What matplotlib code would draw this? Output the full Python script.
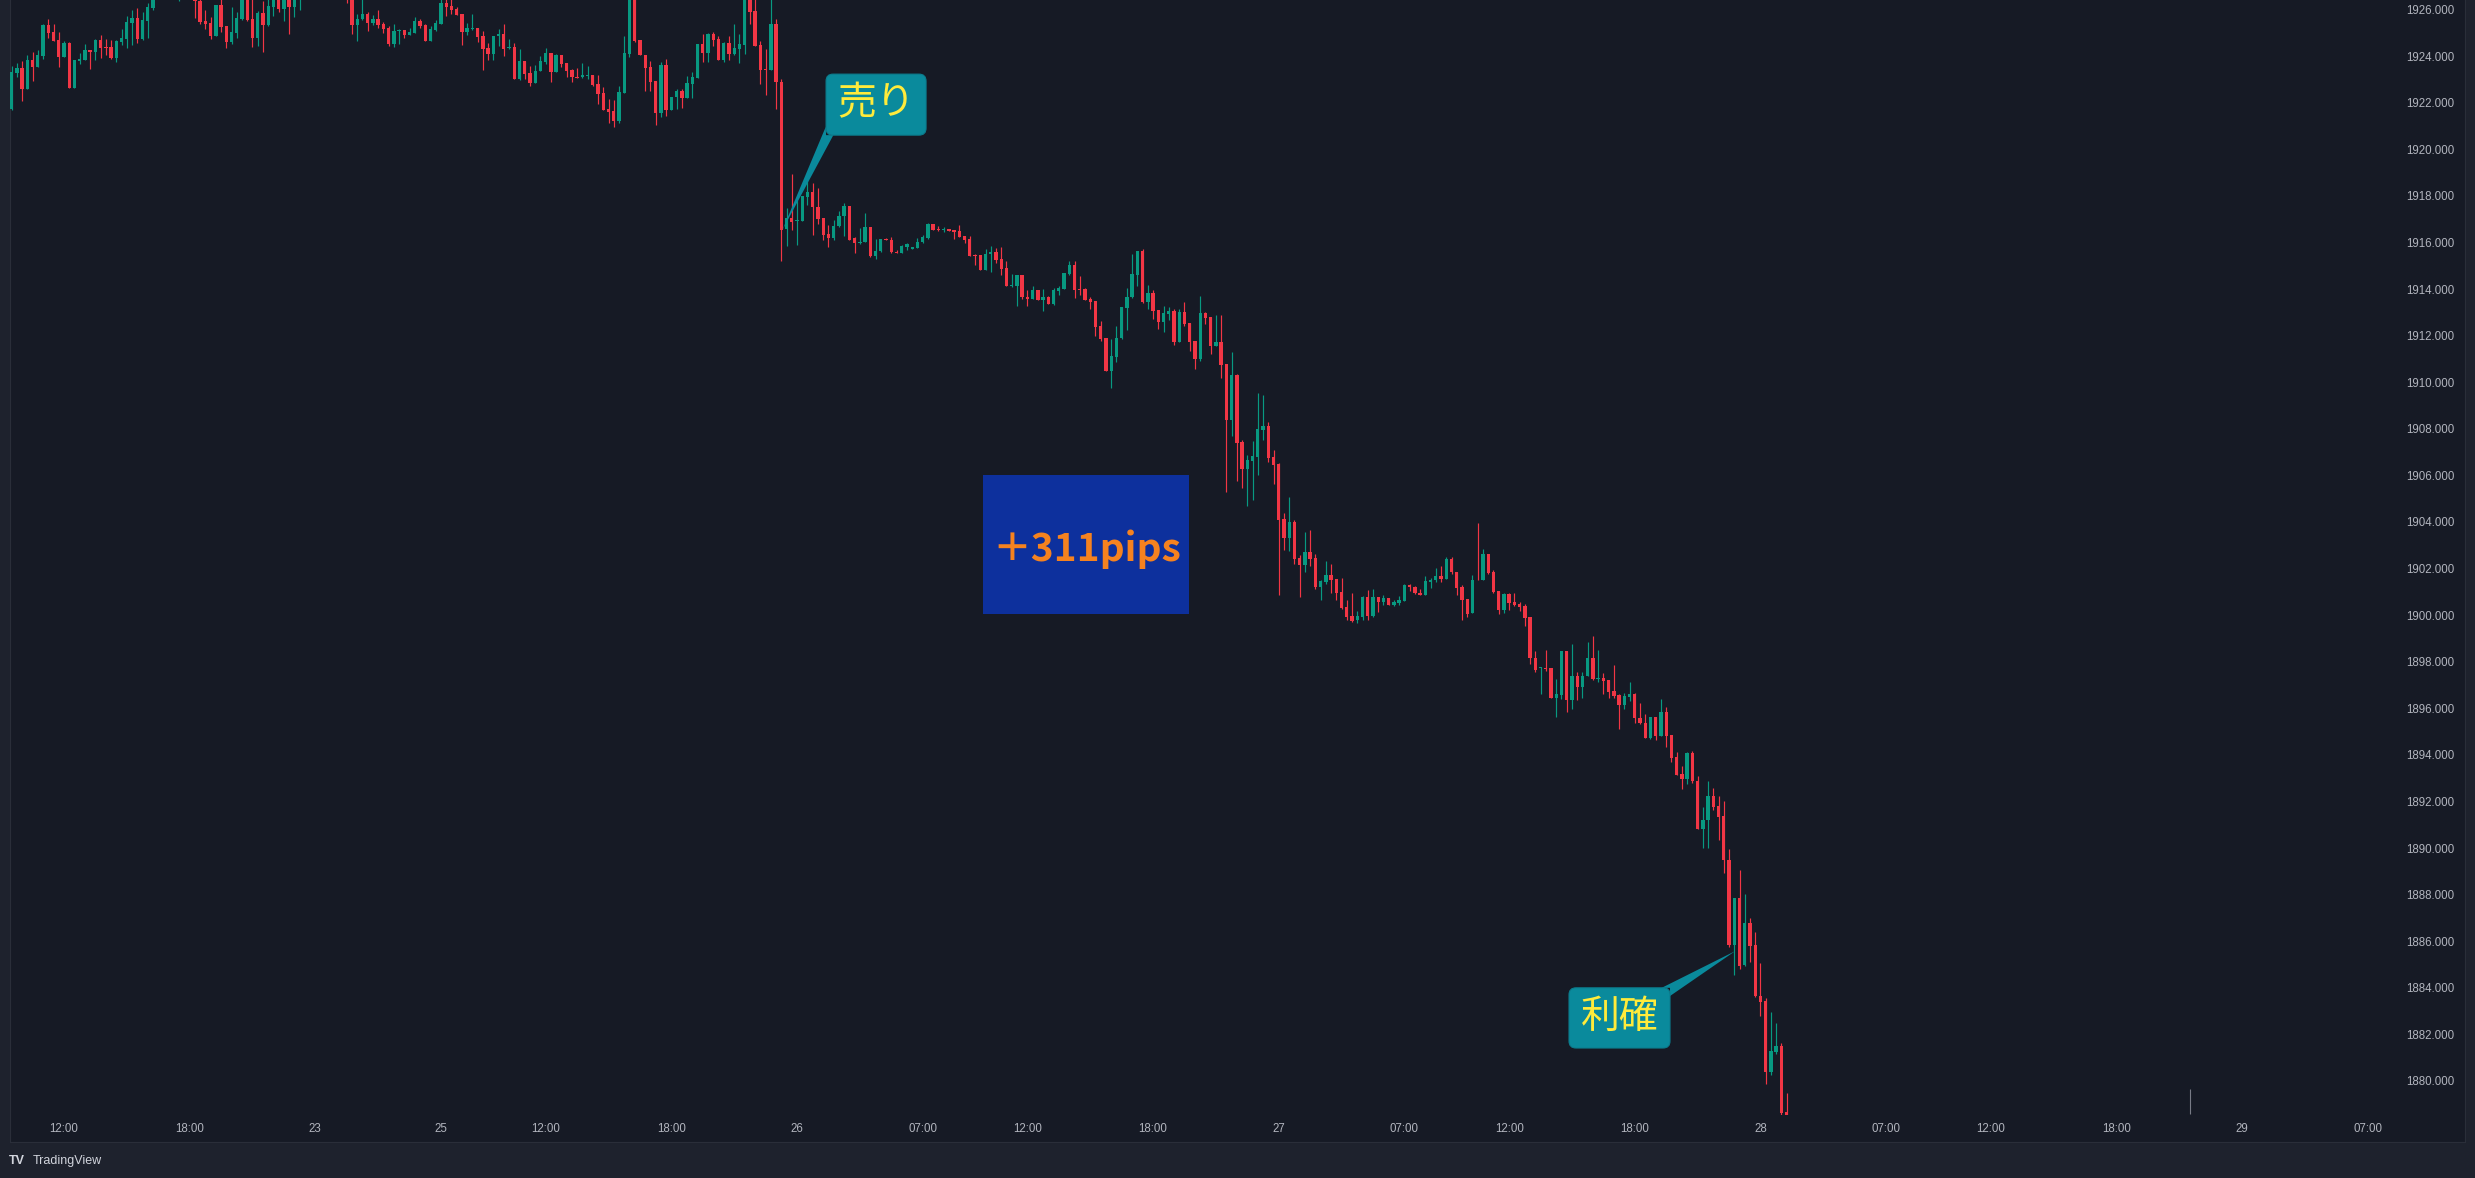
import numpy as np
import matplotlib
matplotlib.use("Agg")
import matplotlib.pyplot as plt
from matplotlib.patches import FancyBboxPatch, Polygon, Rectangle
from matplotlib.transforms import IdentityTransform

# 15-minute candles, bar index 0 = first "12:00" on the time axis
first_bar = -10
opens = [
    1921.73, 1923.28, 1923.49, 1922.60, 1923.83, 1923.53, 1924.01, 1925.34, 1925.04, 1924.69,
    1923.96, 1924.56, 1922.63, 1923.79, 1923.83, 1924.26, 1924.18, 1924.69, 1924.39, 1924.39,
    1923.92, 1924.61, 1924.74, 1925.42, 1925.64, 1924.74, 1925.51, 1926.07, 1926.80, 1927.30,
    1927.00, 1927.40, 1926.90, 1927.20, 1927.00, 1926.80, 1926.37, 1925.51, 1925.42, 1924.86,
    1926.20, 1925.29, 1924.61, 1925.00, 1925.59, 1926.60, 1925.59, 1924.78, 1925.85, 1925.34,
    1926.11, 1926.70, 1926.02, 1926.60, 1926.11, 1926.70, 1927.10, 1927.50, 1927.20, 1926.90,
    1927.30, 1927.00, 1927.40, 1927.10, 1926.80, 1926.50, 1925.34, 1925.59, 1925.81, 1925.42,
    1925.59, 1925.38, 1925.21, 1924.52, 1925.08, 1925.12, 1924.91, 1924.99, 1925.51, 1925.34,
    1924.65, 1925.12, 1925.38, 1926.28, 1926.15, 1926.02, 1925.81, 1925.04, 1925.16, 1925.21,
    1924.86, 1924.35, 1924.09, 1924.86, 1924.95, 1924.35, 1924.39, 1923.02, 1923.79, 1923.28,
    1922.85, 1923.36, 1923.75, 1924.13, 1923.32, 1924.05, 1923.71, 1923.40, 1923.10, 1923.10,
    1923.15, 1923.19, 1922.80, 1922.42, 1921.73, 1921.64, 1921.21, 1922.42, 1924.09, 1926.80,
    1924.69, 1924.05, 1923.53, 1922.93, 1921.56, 1923.62, 1921.69, 1922.24, 1922.50, 1922.20,
    1922.80, 1923.06, 1924.52, 1924.13, 1924.95, 1924.74, 1923.83, 1924.56, 1924.09, 1924.31,
    1924.48, 1926.70, 1925.94, 1924.48, 1923.45, 1923.40, 1925.38, 1922.89, 1916.58, 1917.05,
    1916.92, 1916.92, 1917.95, 1918.17, 1917.52, 1917.05, 1916.36, 1916.19, 1916.71, 1917.14,
    1917.56, 1916.19, 1915.98, 1916.02, 1916.66, 1915.42, 1915.65, 1916.15, 1916.10, 1915.60,
    1915.55, 1915.80, 1915.72, 1915.78, 1916.02, 1916.19, 1916.78, 1916.58, 1916.53, 1916.56,
    1916.53, 1916.49, 1916.27, 1916.15, 1915.47, 1915.46, 1914.82, 1915.50, 1915.60, 1915.27,
    1914.90, 1914.13, 1914.13, 1914.60, 1913.68, 1913.57, 1913.96, 1913.53, 1913.68, 1913.35,
    1913.93, 1914.00, 1914.64, 1915.03, 1914.00, 1914.00, 1913.57, 1913.48, 1912.41, 1911.89,
    1910.48, 1911.08, 1911.89, 1913.18, 1913.66, 1914.60, 1915.63, 1913.44, 1913.83, 1913.10,
    1912.58, 1912.93, 1913.05, 1911.72, 1913.01, 1912.54, 1911.77, 1910.99, 1912.97, 1912.80,
    1911.55, 1911.72, 1910.78, 1908.37, 1910.31, 1907.43, 1906.27, 1906.61, 1906.79, 1907.94,
    1908.12, 1906.79, 1906.49, 1904.12, 1903.31, 1903.99, 1902.45, 1902.15, 1902.71, 1902.45,
    1901.20, 1901.42, 1901.72, 1901.55, 1900.99, 1900.34, 1899.96, 1899.79, 1899.92, 1900.77,
    1899.96, 1900.77, 1900.56, 1900.73, 1900.43, 1900.52, 1900.60, 1901.29, 1901.22, 1900.94,
    1900.87, 1901.43, 1901.52, 1901.68, 1901.54, 1902.40, 1901.86, 1901.22, 1900.68, 1900.10,
    1901.50, 1901.49, 1902.63, 1901.86, 1901.03, 1900.21, 1900.91, 1900.56, 1900.47, 1900.38,
    1899.91, 1898.16, 1897.72, 1897.75, 1897.72, 1896.44, 1896.56, 1898.44, 1896.35, 1897.39,
    1896.91, 1897.40, 1898.16, 1897.26, 1897.30, 1897.21, 1896.74, 1896.56, 1896.14, 1896.49,
    1896.62, 1895.60, 1895.37, 1894.72, 1895.62, 1894.83, 1895.86, 1894.85, 1893.90, 1893.16,
    1892.97, 1894.07, 1892.90, 1890.83, 1891.22, 1892.22, 1891.80, 1891.36, 1889.47, 1885.84,
    1887.87, 1884.96, 1886.77, 1885.82, 1883.63, 1883.42, 1880.40, 1881.23, 1881.49, 1878.65,
]
highs = [
    1923.58, 1923.71, 1923.79, 1924.05, 1924.19, 1924.26, 1925.38, 1925.59, 1925.38, 1925.04,
    1924.65, 1924.61, 1923.83, 1924.13, 1924.52, 1924.26, 1924.74, 1924.91, 1924.74, 1924.69,
    1924.69, 1925.16, 1925.72, 1925.98, 1926.07, 1925.89, 1926.28, 1927.00, 1927.60, 1927.70,
    1927.80, 1927.60, 1927.50, 1927.40, 1927.20, 1927.00, 1926.60, 1925.98, 1925.68, 1926.20,
    1926.50, 1925.29, 1926.11, 1925.89, 1926.80, 1926.90, 1926.50, 1925.94, 1926.37, 1926.60,
    1927.00, 1926.90, 1926.80, 1926.80, 1926.90, 1927.30, 1927.80, 1927.70, 1927.40, 1927.50,
    1927.60, 1927.60, 1927.50, 1927.30, 1927.00, 1926.70, 1925.81, 1926.50, 1925.89, 1925.77,
    1925.98, 1925.47, 1925.29, 1925.38, 1925.16, 1925.12, 1925.21, 1925.68, 1925.59, 1925.38,
    1925.29, 1925.55, 1926.60, 1926.60, 1926.50, 1926.10, 1925.81, 1925.42, 1925.81, 1925.21,
    1925.08, 1924.56, 1924.86, 1925.16, 1925.38, 1924.74, 1924.56, 1924.31, 1923.79, 1923.58,
    1923.62, 1924.01, 1924.35, 1924.13, 1924.09, 1924.05, 1923.71, 1923.45, 1923.49, 1923.71,
    1923.58, 1923.19, 1923.19, 1922.67, 1922.16, 1922.12, 1922.72, 1924.86, 1927.20, 1927.00,
    1924.69, 1924.05, 1923.79, 1922.93, 1923.75, 1923.88, 1922.24, 1922.59, 1922.59, 1923.15,
    1923.32, 1924.52, 1924.95, 1924.99, 1925.04, 1924.86, 1924.61, 1924.86, 1925.38, 1924.95,
    1927.00, 1926.90, 1926.60, 1924.65, 1924.31, 1926.60, 1925.59, 1923.02, 1917.48, 1918.94,
    1917.82, 1917.99, 1918.68, 1918.57, 1918.32, 1917.05, 1916.75, 1916.96, 1917.35, 1917.69,
    1917.56, 1916.23, 1916.62, 1917.26, 1916.66, 1916.15, 1916.15, 1916.19, 1916.23, 1915.68,
    1915.89, 1915.98, 1915.82, 1916.19, 1916.32, 1916.83, 1916.78, 1916.71, 1916.66, 1916.56,
    1916.53, 1916.75, 1916.27, 1916.27, 1915.50, 1915.46, 1915.70, 1915.85, 1915.75, 1915.80,
    1915.19, 1914.64, 1914.60, 1914.60, 1913.96, 1914.13, 1913.96, 1914.00, 1913.71, 1914.04,
    1914.13, 1914.69, 1915.20, 1915.20, 1914.56, 1914.04, 1913.68, 1913.48, 1912.62, 1911.89,
    1911.85, 1912.41, 1913.23, 1914.04, 1915.50, 1915.63, 1915.72, 1914.17, 1913.96, 1913.10,
    1913.27, 1913.23, 1913.14, 1913.14, 1913.44, 1912.54, 1911.77, 1913.70, 1913.01, 1912.80,
    1912.88, 1912.88, 1910.78, 1911.29, 1910.35, 1907.52, 1906.87, 1907.47, 1909.53, 1909.45,
    1908.29, 1907.09, 1906.53, 1904.38, 1905.07, 1904.08, 1902.58, 1903.57, 1903.65, 1902.62,
    1901.50, 1902.32, 1902.19, 1901.55, 1901.59, 1900.65, 1900.95, 1900.17, 1900.82, 1901.07,
    1901.12, 1900.77, 1900.86, 1900.73, 1900.65, 1900.82, 1901.33, 1901.33, 1901.25, 1901.12,
    1901.68, 1901.61, 1902.01, 1902.10, 1902.49, 1902.49, 1901.86, 1901.31, 1900.68, 1901.72,
    1903.96, 1902.84, 1902.63, 1901.93, 1901.03, 1900.94, 1900.94, 1900.94, 1900.58, 1900.47,
    1899.91, 1898.46, 1897.79, 1898.51, 1897.72, 1897.28, 1898.44, 1898.44, 1898.75, 1897.56,
    1897.56, 1898.84, 1899.10, 1898.51, 1897.51, 1897.21, 1897.86, 1896.60, 1896.65, 1897.12,
    1896.67, 1896.21, 1895.76, 1895.62, 1895.62, 1896.39, 1896.04, 1894.85, 1894.13, 1893.51,
    1894.13, 1894.16, 1893.11, 1891.78, 1892.88, 1892.57, 1892.25, 1892.01, 1889.94, 1887.87,
    1889.04, 1888.01, 1886.99, 1886.38, 1885.08, 1883.58, 1882.96, 1882.49, 1881.63, 1879.48,
]
lows = [
    1921.69, 1923.12, 1922.07, 1922.60, 1922.95, 1923.53, 1923.88, 1924.79, 1924.65, 1923.53,
    1923.96, 1922.63, 1922.63, 1923.66, 1923.83, 1923.45, 1923.83, 1923.92, 1924.05, 1923.88,
    1923.75, 1924.48, 1924.35, 1924.48, 1924.56, 1924.69, 1924.78, 1925.98, 1926.70, 1926.80,
    1926.90, 1926.70, 1926.37, 1926.80, 1926.60, 1925.64, 1925.38, 1925.16, 1924.74, 1924.86,
    1925.04, 1924.35, 1924.52, 1924.78, 1925.55, 1925.50, 1924.39, 1924.43, 1924.18, 1925.30,
    1925.72, 1925.89, 1925.51, 1924.95, 1925.68, 1925.98, 1926.90, 1927.00, 1926.70, 1926.80,
    1926.80, 1926.90, 1926.90, 1926.60, 1926.28, 1924.95, 1924.65, 1925.55, 1925.08, 1925.34,
    1925.21, 1924.99, 1924.43, 1924.39, 1924.52, 1924.78, 1924.91, 1924.99, 1925.21, 1924.65,
    1924.65, 1925.08, 1925.38, 1925.72, 1925.81, 1925.77, 1924.48, 1924.91, 1925.12, 1924.61,
    1923.40, 1923.83, 1923.83, 1924.43, 1924.01, 1924.31, 1923.02, 1922.97, 1923.02, 1922.72,
    1922.85, 1923.36, 1923.66, 1922.89, 1923.32, 1923.53, 1923.10, 1922.89, 1923.06, 1923.06,
    1923.02, 1922.72, 1921.94, 1921.69, 1921.13, 1920.96, 1921.13, 1922.42, 1923.96, 1924.60,
    1924.05, 1922.50, 1922.50, 1921.04, 1921.39, 1921.43, 1921.69, 1921.73, 1921.77, 1922.20,
    1922.20, 1923.06, 1923.75, 1923.75, 1924.43, 1923.83, 1923.75, 1923.83, 1924.05, 1923.71,
    1924.09, 1925.38, 1924.43, 1922.80, 1922.33, 1923.40, 1921.73, 1915.20, 1915.85, 1916.53,
    1915.89, 1916.92, 1917.61, 1916.32, 1916.79, 1916.10, 1915.82, 1916.10, 1916.68, 1916.28,
    1916.10, 1915.56, 1915.95, 1916.02, 1915.38, 1915.28, 1915.60, 1916.10, 1915.53, 1915.53,
    1915.53, 1915.68, 1915.70, 1915.76, 1915.99, 1916.16, 1916.53, 1916.49, 1916.45, 1916.50,
    1916.16, 1916.25, 1915.96, 1915.43, 1915.03, 1914.82, 1914.82, 1914.74, 1915.10, 1914.60,
    1914.13, 1914.07, 1913.27, 1913.57, 1913.27, 1913.57, 1913.53, 1913.05, 1913.35, 1913.31,
    1913.74, 1914.00, 1914.60, 1913.61, 1913.74, 1913.53, 1913.14, 1911.98, 1911.78, 1910.48,
    1909.75, 1910.86, 1911.85, 1912.24, 1913.61, 1914.13, 1913.40, 1913.14, 1912.71, 1912.28,
    1912.15, 1912.67, 1911.59, 1911.72, 1912.41, 1911.34, 1910.56, 1910.91, 1912.50, 1911.21,
    1911.55, 1910.18, 1905.28, 1907.69, 1905.75, 1905.45, 1904.68, 1904.94, 1906.01, 1907.52,
    1906.57, 1905.63, 1900.86, 1902.79, 1902.75, 1902.19, 1900.77, 1901.85, 1902.11, 1901.12,
    1900.65, 1901.33, 1900.95, 1900.65, 1900.26, 1899.79, 1899.70, 1899.65, 1899.79, 1899.79,
    1899.92, 1900.13, 1900.43, 1900.43, 1900.39, 1900.43, 1900.60, 1901.03, 1900.90, 1900.87,
    1900.87, 1901.15, 1901.43, 1901.43, 1901.54, 1901.75, 1900.87, 1899.81, 1899.93, 1900.10,
    1901.49, 1901.49, 1901.75, 1900.94, 1900.07, 1900.10, 1900.24, 1900.38, 1900.16, 1899.54,
    1897.89, 1897.58, 1896.62, 1897.61, 1896.44, 1895.62, 1896.42, 1895.84, 1895.97, 1896.35,
    1896.44, 1897.37, 1897.23, 1897.11, 1896.63, 1896.44, 1896.44, 1895.13, 1895.95, 1896.32,
    1895.37, 1895.34, 1894.71, 1894.67, 1894.63, 1894.83, 1894.34, 1893.69, 1893.15, 1892.55,
    1892.76, 1892.79, 1890.83, 1890.01, 1890.01, 1891.62, 1890.36, 1888.94, 1885.75, 1884.56,
    1884.82, 1884.93, 1885.10, 1883.59, 1882.81, 1879.88, 1880.26, 1881.18, 1878.56, 1878.56,
]
closes = [
    1923.32, 1923.49, 1922.60, 1923.83, 1923.53, 1924.05, 1925.35, 1925.01, 1924.65, 1923.96,
    1924.58, 1922.63, 1923.83, 1923.88, 1924.26, 1924.18, 1924.71, 1924.36, 1924.36, 1923.92,
    1924.65, 1924.78, 1925.47, 1925.64, 1924.75, 1925.55, 1926.11, 1926.80, 1927.30, 1927.00,
    1927.40, 1926.90, 1927.20, 1927.00, 1926.80, 1926.37, 1925.47, 1925.38, 1924.86, 1926.20,
    1925.25, 1924.61, 1925.04, 1925.64, 1926.60, 1925.55, 1924.78, 1925.85, 1925.34, 1926.15,
    1926.70, 1926.02, 1926.60, 1926.11, 1926.70, 1927.10, 1927.50, 1927.20, 1926.90, 1927.30,
    1927.00, 1927.40, 1927.10, 1926.80, 1926.50, 1925.34, 1925.59, 1925.81, 1925.42, 1925.59,
    1925.34, 1925.16, 1924.52, 1925.08, 1925.12, 1924.91, 1925.04, 1925.51, 1925.29, 1924.65,
    1925.16, 1925.42, 1926.28, 1926.11, 1925.98, 1925.77, 1925.04, 1925.21, 1925.21, 1924.82,
    1924.31, 1924.09, 1924.86, 1924.95, 1924.31, 1924.39, 1923.02, 1923.79, 1923.23, 1922.85,
    1923.36, 1923.79, 1924.13, 1923.32, 1924.05, 1923.66, 1923.36, 1923.10, 1923.06, 1923.19,
    1923.19, 1922.76, 1922.37, 1921.69, 1921.60, 1921.21, 1922.46, 1924.13, 1926.80, 1924.65,
    1924.05, 1923.49, 1922.89, 1921.56, 1923.62, 1921.69, 1922.24, 1922.50, 1922.20, 1922.85,
    1923.10, 1924.52, 1924.13, 1924.95, 1924.69, 1923.83, 1924.56, 1924.09, 1924.35, 1924.52,
    1926.70, 1925.89, 1924.43, 1923.40, 1923.40, 1925.38, 1922.89, 1916.53, 1917.05, 1916.88,
    1916.96, 1917.99, 1918.17, 1917.52, 1917.01, 1916.32, 1916.19, 1916.71, 1917.14, 1917.56,
    1916.10, 1915.98, 1916.02, 1916.66, 1915.42, 1915.65, 1916.15, 1916.10, 1915.59, 1915.53,
    1915.85, 1915.93, 1915.80, 1916.02, 1916.23, 1916.79, 1916.53, 1916.53, 1916.58, 1916.50,
    1916.46, 1916.25, 1916.10, 1915.43, 1915.43, 1914.82, 1915.50, 1915.60, 1915.24, 1914.86,
    1914.13, 1914.17, 1914.60, 1913.64, 1913.57, 1913.96, 1913.53, 1913.68, 1913.35, 1913.96,
    1914.04, 1914.69, 1915.03, 1913.96, 1913.96, 1913.53, 1913.44, 1912.37, 1911.85, 1910.48,
    1911.12, 1911.89, 1913.23, 1913.68, 1914.64, 1915.63, 1913.44, 1913.83, 1913.05, 1912.58,
    1912.97, 1913.05, 1911.72, 1913.01, 1912.50, 1911.72, 1910.99, 1912.97, 1912.75, 1911.55,
    1911.72, 1910.74, 1908.37, 1910.31, 1907.39, 1906.27, 1906.66, 1906.83, 1907.99, 1908.12,
    1906.74, 1906.44, 1904.08, 1903.31, 1903.99, 1902.41, 1902.15, 1902.71, 1902.41, 1901.20,
    1901.46, 1901.72, 1901.50, 1900.95, 1900.30, 1899.92, 1899.76, 1899.96, 1900.77, 1899.96,
    1900.77, 1900.56, 1900.73, 1900.43, 1900.56, 1900.65, 1901.29, 1901.20, 1900.94, 1900.87,
    1901.47, 1901.52, 1901.68, 1901.54, 1902.40, 1901.86, 1901.17, 1900.65, 1900.07, 1901.50,
    1901.49, 1902.63, 1901.79, 1901.00, 1900.21, 1900.91, 1900.54, 1900.44, 1900.37, 1899.89,
    1898.14, 1897.65, 1897.75, 1897.68, 1896.44, 1896.60, 1898.44, 1896.35, 1897.39, 1896.91,
    1897.40, 1898.16, 1897.26, 1897.30, 1897.18, 1896.70, 1896.53, 1896.14, 1896.53, 1896.62,
    1895.60, 1895.37, 1894.72, 1895.62, 1894.83, 1895.86, 1894.81, 1893.86, 1893.15, 1892.97,
    1894.07, 1892.87, 1890.83, 1891.22, 1892.22, 1891.78, 1891.34, 1889.47, 1885.84, 1887.87,
    1884.93, 1886.77, 1885.78, 1883.63, 1883.38, 1880.40, 1881.28, 1881.49, 1878.62, 1878.56,
]

time_tick_bars = [0, 24, 48, 72, 92, 116, 140, 164, 184, 208,
                  232, 256, 276, 300, 324, 348, 368, 392, 416, 440]
time_tick_labels = ["12:00", "18:00", "23", "25", "12:00", "18:00", "26", "07:00", "12:00", "18:00",
                    "27", "07:00", "12:00", "18:00", "28", "07:00", "12:00", "18:00", "29", "07:00"]
price_ticks = list(range(1880, 1927, 2))

# annotations (anchored on bar / price)
sell_label, sell_bar, sell_price = "売り", 137.2, 1916.53
tp_label, tp_bar, tp_price = "利確", 319.2, 1885.58
pips_label = "＋311pips"
pips_bars = (175.6, 214.9)
pips_prices = (1900.06, 1906.02)
cursor_bar, cursor_prices = 406, (1878.58, 1879.65)

UP, DOWN = "#089981", "#f23645"
BG, OUTER, GRID = "#161a25", "#1e222d", "#2a2e39"
TXT = "#b2b5be"

plt.rcParams["font.family"] = ["Liberation Sans", "DejaVu Sans"]

W, H = 2475, 1178
fig = plt.figure(figsize=(W / 100, H / 100), dpi=100, facecolor=OUTER)


def frac(x0, y0, x1, y1):
    # pixel box measured from the top-left -> figure fraction rect
    return [x0 / W, 1 - y1 / H, (x1 - x0) / W, (y1 - y0) / H]


pane = fig.add_axes(frac(10, 0, 2465, 1142))
pane.set_facecolor(BG)
pane.set_xticks([])
pane.set_yticks([])
for s in pane.spines.values():
    s.set_color(GRID)
pane.spines["top"].set_visible(False)

ax = fig.add_axes(frac(10, 0, 2395, 1115))
ax.set_facecolor("none")
for s in ax.spines.values():
    s.set_visible(False)

o = np.array(opens)
h = np.array(highs)
l = np.array(lows)
c = np.array(closes)
bars = np.arange(first_bar, first_bar + len(c))
colors = np.where(c >= o, UP, DOWN)

ax.vlines(bars, l, h, colors=colors, linewidth=0.85)
body_low = np.minimum(o, c)
body_h = np.maximum(np.abs(c - o), 0.04)
ax.bar(bars, body_h, bottom=body_low, width=0.64, color=colors, linewidth=0)

ax.vlines([cursor_bar], cursor_prices[0], cursor_prices[1], colors="#787b86", linewidth=0.8)

ax.set_xlim(-10.31, 445.19)
ax.set_ylim(1878.54, 1926.41)

ax.set_xticks(time_tick_bars)
ax.set_xticklabels(time_tick_labels)
ax.tick_params(axis="x", length=0, pad=6, labelsize=8.3, labelcolor=TXT)

ax.yaxis.tick_right()
ax.set_yticks(price_ticks)
ax.set_yticklabels([f"{p:.3f}" for p in price_ticks])
ax.tick_params(axis="y", length=0, pad=43, labelsize=8.3, labelcolor=TXT)
for lab in ax.get_yticklabels():
    lab.set_horizontalalignment("right")

# +311pips box
ax.add_patch(Rectangle((pips_bars[0], pips_prices[0]), pips_bars[1] - pips_bars[0],
                       pips_prices[1] - pips_prices[0], facecolor="#0d309d", edgecolor="none", zorder=3))
ax.text(sum(pips_bars) / 2, sum(pips_prices) / 2 - 0.2, pips_label, ha="center", va="center",
        fontsize=28, color="#f5821f", fontweight="bold", family=["Noto Sans CJK JP", "DejaVu Sans"], zorder=4)

CALLOUT = "#0a8a9c"


def callout(bar, price, label, box, tail):
    tx, ty = ax.transData.transform((bar, price))
    x0, y0, bw, bh = box
    pts = [(tx, ty)] + [(tx + dx, ty + dy) for dx, dy in tail]
    fig.add_artist(Polygon(pts, closed=True, facecolor=CALLOUT, edgecolor="none",
                           transform=IdentityTransform(), zorder=5))
    fig.add_artist(FancyBboxPatch((tx + x0, ty + y0), bw, bh,
                                  boxstyle="round,pad=0,rounding_size=7",
                                  facecolor=CALLOUT, edgecolor="#0b7d8e", linewidth=0.8,
                                  transform=IdentityTransform(), zorder=6))
    fig.text((tx + x0 + bw / 2) / W, (ty + y0 + bh / 2 + 1) / H, label, ha="center", va="center",
             fontsize=28, color="#ffeb3b", family=["Noto Sans CJK JP", "DejaVu Sans"], zorder=7)


callout(sell_bar, sell_price, sell_label, (43.7, 95, 100, 61),
        [(43.4, 103.3), (43.7, 95), (51, 95)])
callout(tp_bar, tp_price, tp_label, (-166.3, -97, 101, 60.2),
        [(-73.6, -36.8), (-65.3, -36.8), (-65.3, -45)])

# bottom brand strip
fig.text(9 / W, 17 / H, "TV", ha="left", va="center", fontsize=9, fontweight="bold", color="#d1d4dc")
fig.text(33 / W, 17 / H, "TradingView", ha="left", va="center", fontsize=9, color="#d1d4dc")

fig.savefig("out.png", dpi=100, facecolor=fig.get_facecolor())
